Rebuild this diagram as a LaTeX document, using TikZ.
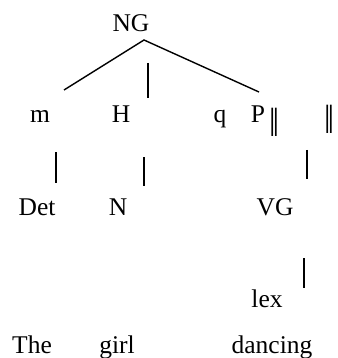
\documentclass[tikz,border=0pt]{standalone}
\usepackage{fontspec}
\setmainfont{Liberation Serif}
\begin{document}
\begin{tikzpicture}[x=1pt, y=-1pt, font=\fontsize{25.5}{30}\selectfont,
	lbl/.style={anchor=base, inner sep=0pt},
	dbar/.style={anchor=center, inner sep=0pt},
	stem/.style={line width=1.4pt}]
	\useasboundingbox (0,0) rectangle (337,358);
	
	% labels
	\node[lbl] (ng) at (131,32) {NG};
	
	\node[lbl] (m) at (40,123) {m};
	\node[lbl] (h) at (121,123) {H};
	\node[lbl] (q) at (220,123) {q};
	\node[lbl] (p) at (258,123) {P};
	\node[dbar] (bar1) at (275,122) {\scalebox{1.4}[1.6]{‖}};
	\node[dbar] (bar2) at (330,119.5) {\scalebox{1.4}[1.6]{‖}};
	
	\node[lbl] (det) at (37,215) {Det};
	\node[lbl] (n) at (118,215) {N};
	\node[lbl] (vg) at (275,215) {VG};
	
	\node[lbl] (lex) at (267,307) {lex};
	
	\node[lbl] (the) at (32,353) {The};
	\node[lbl] (girl) at (117,353) {girl};
	\node[lbl] (dancing) at (272,353) {dancing};
	
	% line ends
	\coordinate (apex) at (144,40);
	\coordinate (mtop) at (64,90);
	\coordinate (ptop) at (259,92);
	\coordinate (htop) at (148,63);
	\coordinate (hbot) at (148,98);
	\coordinate (dettop) at (56,152);
	\coordinate (detbot) at (56,183);
	\coordinate (ntop) at (144,157);
	\coordinate (nbot) at (144,186);
	\coordinate (vgtop) at (307,150);
	\coordinate (vgbot) at (307,179);
	\coordinate (lextop) at (304,258);
	\coordinate (lexbot) at (304,288);
	
	\draw[stem] (mtop) -- (apex) -- (ptop);
	\draw[stem] (htop) -- (hbot);
	\draw[stem] (dettop) -- (detbot);
	\draw[stem] (ntop) -- (nbot);
	\draw[stem] (vgtop) -- (vgbot);
	\draw[stem] (lextop) -- (lexbot);
	
\end{tikzpicture}
\end{document}
